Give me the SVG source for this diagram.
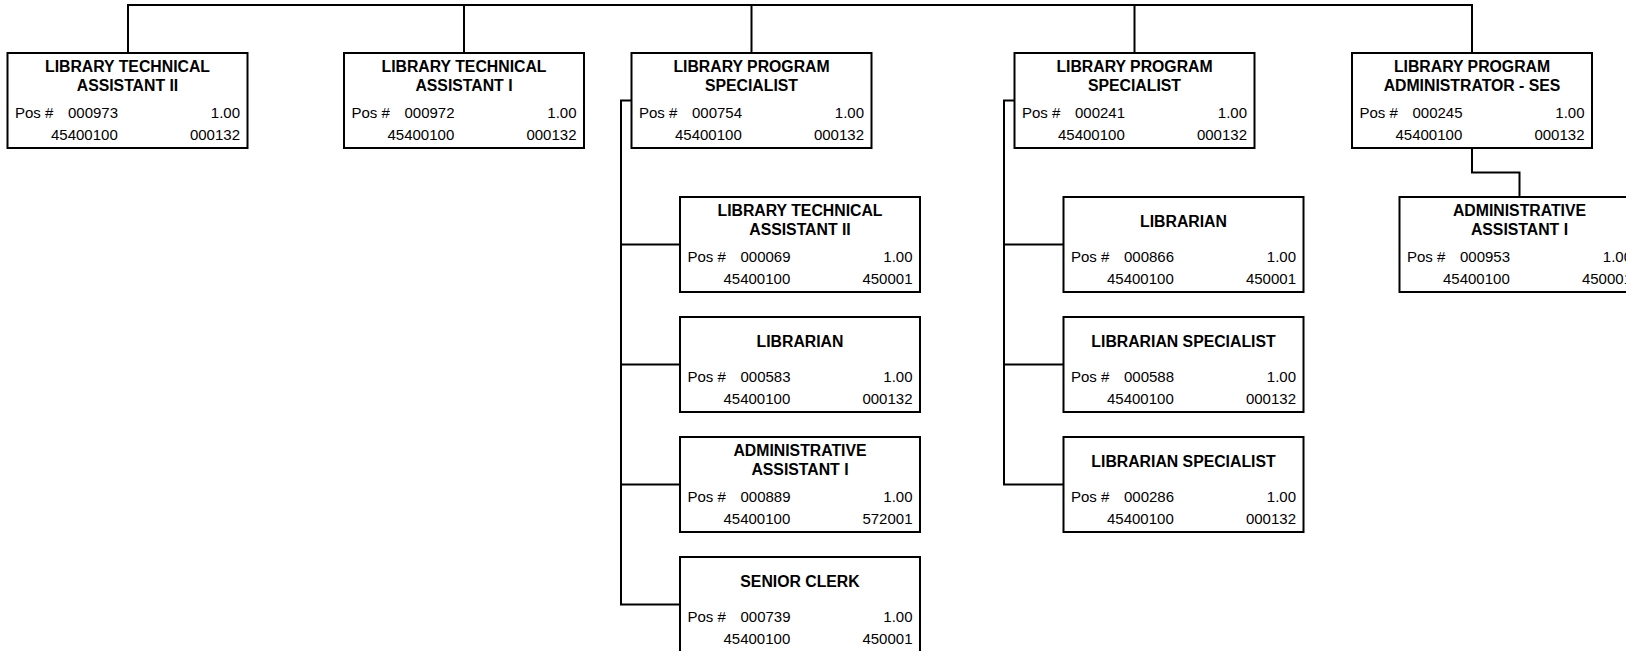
<svg xmlns="http://www.w3.org/2000/svg" width="1626" height="651" viewBox="0 0 1626 651">
  <style>
    .box { fill: #ffffff; stroke: #000000; stroke-width: 2; }
    .link { fill: none; stroke: #000000; stroke-width: 2; }
    text { font-family: "Liberation Sans", Arial, sans-serif; fill: #000000; }
    .title { font-size: 15.8px; font-weight: bold; text-anchor: middle; }
    .val { font-size: 15px; }
    .r { text-anchor: end; }
  </style>
  <rect width="1626" height="651" fill="#ffffff"/>

  <g id="connectors">
    <path class="link" d="M128,53 V5 H1472 V53 M464,5 V53 M751.5,5 V53 M1134.5,5 V53"/>
    <path class="link" d="M631.5,100.5 H621 V604.5 H680 M621,244.5 H680 M621,364.5 H680 M621,484.5 H680"/>
    <path class="link" d="M1014.5,100.5 H1004 V484.5 H1063.5 M1004,244.5 H1063.5 M1004,364.5 H1063.5"/>
    <path class="link" d="M1472,148 V172.5 H1519.5 V197"/>
  </g>

  <!-- top row -->
  <g id="pos-000973" transform="translate(7.5,53)">
    <rect class="box" width="240" height="95"/>
    <text class="title" x="120" y="19">LIBRARY TECHNICAL</text>
    <text class="title" x="120" y="38">ASSISTANT II</text>
    <text class="val" x="7.5" y="64.5">Pos #</text>
    <text class="val" x="60.5" y="64.5">000973</text>
    <text class="val r" x="232.5" y="64.5">1.00</text>
    <text class="val" x="43.5" y="86.5">45400100</text>
    <text class="val r" x="232.5" y="86.5">000132</text>
  </g>
  <g id="pos-000972" transform="translate(344,53)">
    <rect class="box" width="240" height="95"/>
    <text class="title" x="120" y="19">LIBRARY TECHNICAL</text>
    <text class="title" x="120" y="38">ASSISTANT I</text>
    <text class="val" x="7.5" y="64.5">Pos #</text>
    <text class="val" x="60.5" y="64.5">000972</text>
    <text class="val r" x="232.5" y="64.5">1.00</text>
    <text class="val" x="43.5" y="86.5">45400100</text>
    <text class="val r" x="232.5" y="86.5">000132</text>
  </g>
  <g id="pos-000754" transform="translate(631.5,53)">
    <rect class="box" width="240" height="95"/>
    <text class="title" x="120" y="19">LIBRARY PROGRAM</text>
    <text class="title" x="120" y="38">SPECIALIST</text>
    <text class="val" x="7.5" y="64.5">Pos #</text>
    <text class="val" x="60.5" y="64.5">000754</text>
    <text class="val r" x="232.5" y="64.5">1.00</text>
    <text class="val" x="43.5" y="86.5">45400100</text>
    <text class="val r" x="232.5" y="86.5">000132</text>
  </g>
  <g id="pos-000241" transform="translate(1014.5,53)">
    <rect class="box" width="240" height="95"/>
    <text class="title" x="120" y="19">LIBRARY PROGRAM</text>
    <text class="title" x="120" y="38">SPECIALIST</text>
    <text class="val" x="7.5" y="64.5">Pos #</text>
    <text class="val" x="60.5" y="64.5">000241</text>
    <text class="val r" x="232.5" y="64.5">1.00</text>
    <text class="val" x="43.5" y="86.5">45400100</text>
    <text class="val r" x="232.5" y="86.5">000132</text>
  </g>
  <g id="pos-000245" transform="translate(1352,53)">
    <rect class="box" width="240" height="95"/>
    <text class="title" x="120" y="19">LIBRARY PROGRAM</text>
    <text class="title" x="120" y="38">ADMINISTRATOR - SES</text>
    <text class="val" x="7.5" y="64.5">Pos #</text>
    <text class="val" x="60.5" y="64.5">000245</text>
    <text class="val r" x="232.5" y="64.5">1.00</text>
    <text class="val" x="43.5" y="86.5">45400100</text>
    <text class="val r" x="232.5" y="86.5">000132</text>
  </g>

  <!-- reports of 000754 -->
  <g id="pos-000069" transform="translate(680,197)">
    <rect class="box" width="240" height="95"/>
    <text class="title" x="120" y="19">LIBRARY TECHNICAL</text>
    <text class="title" x="120" y="38">ASSISTANT II</text>
    <text class="val" x="7.5" y="64.5">Pos #</text>
    <text class="val" x="60.5" y="64.5">000069</text>
    <text class="val r" x="232.5" y="64.5">1.00</text>
    <text class="val" x="43.5" y="86.5">45400100</text>
    <text class="val r" x="232.5" y="86.5">450001</text>
  </g>
  <g id="pos-000583" transform="translate(680,317)">
    <rect class="box" width="240" height="95"/>
    <text class="title" x="120" y="30">LIBRARIAN</text>
    <text class="val" x="7.5" y="64.5">Pos #</text>
    <text class="val" x="60.5" y="64.5">000583</text>
    <text class="val r" x="232.5" y="64.5">1.00</text>
    <text class="val" x="43.5" y="86.5">45400100</text>
    <text class="val r" x="232.5" y="86.5">000132</text>
  </g>
  <g id="pos-000889" transform="translate(680,437)">
    <rect class="box" width="240" height="95"/>
    <text class="title" x="120" y="19">ADMINISTRATIVE</text>
    <text class="title" x="120" y="38">ASSISTANT I</text>
    <text class="val" x="7.5" y="64.5">Pos #</text>
    <text class="val" x="60.5" y="64.5">000889</text>
    <text class="val r" x="232.5" y="64.5">1.00</text>
    <text class="val" x="43.5" y="86.5">45400100</text>
    <text class="val r" x="232.5" y="86.5">572001</text>
  </g>
  <g id="pos-000739" transform="translate(680,557)">
    <rect class="box" width="240" height="95"/>
    <text class="title" x="120" y="30">SENIOR CLERK</text>
    <text class="val" x="7.5" y="64.5">Pos #</text>
    <text class="val" x="60.5" y="64.5">000739</text>
    <text class="val r" x="232.5" y="64.5">1.00</text>
    <text class="val" x="43.5" y="86.5">45400100</text>
    <text class="val r" x="232.5" y="86.5">450001</text>
  </g>

  <!-- reports of 000241 -->
  <g id="pos-000866" transform="translate(1063.5,197)">
    <rect class="box" width="240" height="95"/>
    <text class="title" x="120" y="30">LIBRARIAN</text>
    <text class="val" x="7.5" y="64.5">Pos #</text>
    <text class="val" x="60.5" y="64.5">000866</text>
    <text class="val r" x="232.5" y="64.5">1.00</text>
    <text class="val" x="43.5" y="86.5">45400100</text>
    <text class="val r" x="232.5" y="86.5">450001</text>
  </g>
  <g id="pos-000588" transform="translate(1063.5,317)">
    <rect class="box" width="240" height="95"/>
    <text class="title" x="120" y="30">LIBRARIAN SPECIALIST</text>
    <text class="val" x="7.5" y="64.5">Pos #</text>
    <text class="val" x="60.5" y="64.5">000588</text>
    <text class="val r" x="232.5" y="64.5">1.00</text>
    <text class="val" x="43.5" y="86.5">45400100</text>
    <text class="val r" x="232.5" y="86.5">000132</text>
  </g>
  <g id="pos-000286" transform="translate(1063.5,437)">
    <rect class="box" width="240" height="95"/>
    <text class="title" x="120" y="30">LIBRARIAN SPECIALIST</text>
    <text class="val" x="7.5" y="64.5">Pos #</text>
    <text class="val" x="60.5" y="64.5">000286</text>
    <text class="val r" x="232.5" y="64.5">1.00</text>
    <text class="val" x="43.5" y="86.5">45400100</text>
    <text class="val r" x="232.5" y="86.5">000132</text>
  </g>

  <!-- report of 000245 -->
  <g id="pos-000953" transform="translate(1399.5,197)">
    <rect class="box" width="240" height="95"/>
    <text class="title" x="120" y="19">ADMINISTRATIVE</text>
    <text class="title" x="120" y="38">ASSISTANT I</text>
    <text class="val" x="7.5" y="64.5">Pos #</text>
    <text class="val" x="60.5" y="64.5">000953</text>
    <text class="val r" x="232.5" y="64.5">1.00</text>
    <text class="val" x="43.5" y="86.5">45400100</text>
    <text class="val r" x="232.5" y="86.5">450001</text>
  </g>
</svg>
